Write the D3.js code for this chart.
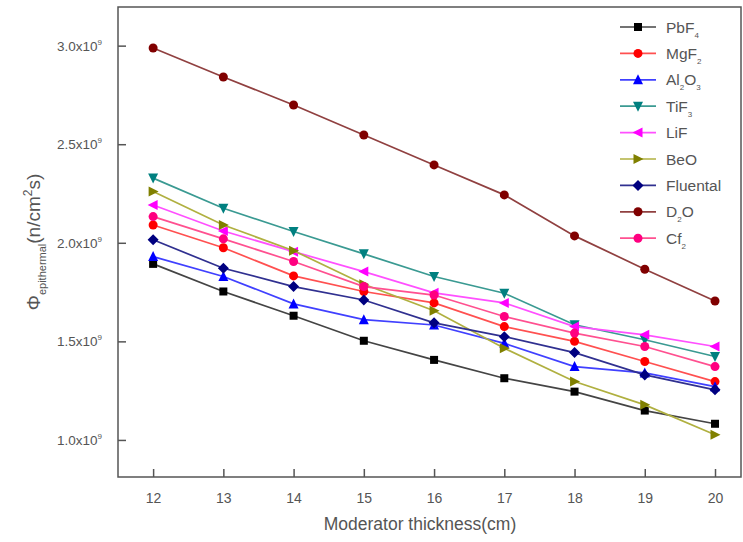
<!DOCTYPE html>
<html lang="en">
<head>
<meta charset="UTF-8">
<title>Epithermal flux vs moderator thickness</title>
<script src="https://d3js.org/d3.v7.min.js"></script>
<style>
    body, html { margin: 0; padding: 0; background: #fff; }
    svg { display: block; font-family: "Liberation Sans", Arial, sans-serif; }
</style>
</head>
<body>
<div id="chart"></div>
<script>
// thickness in cm
const thickness = [12, 13, 14, 15, 16, 17, 18, 19, 20];
// flux values in units of 1e9 n/cm2s
const pbf4     = [1.893, 1.753, 1.630, 1.503, 1.406, 1.313, 1.245, 1.149, 1.082];
const mgf2     = [2.090, 1.975, 1.832, 1.753, 1.695, 1.575, 1.500, 1.398, 1.296];
const al2o3    = [1.930, 1.829, 1.690, 1.610, 1.583, 1.490, 1.372, 1.340, 1.270];
const tif3     = [2.328, 2.175, 2.057, 1.944, 1.829, 1.744, 1.584, 1.508, 1.423];
const lif      = [2.192, 2.060, 1.955, 1.854, 1.746, 1.695, 1.575, 1.533, 1.474];
const beo      = [2.260, 2.090, 1.960, 1.790, 1.655, 1.465, 1.296, 1.178, 1.026];
const fluental = [2.015, 1.871, 1.778, 1.710, 1.594, 1.524, 1.443, 1.330, 1.254];
const d2o      = [2.988, 2.841, 2.699, 2.547, 2.395, 2.243, 2.035, 1.866, 1.705];
const cf2      = [2.133, 2.020, 1.905, 1.778, 1.735, 1.626, 1.542, 1.474, 1.372];
const yTicks = [1.0, 1.5, 2.0, 2.5, 3.0];

(function() {
    const series = [
        {name: "PbF", sub: "4", values: pbf4, color: "#000000", line: "#444444", shape: "square"},
        {name: "MgF", sub: "2", values: mgf2, color: "#ff0000", line: "#ff5050", shape: "circle"},
        {name: "Al", sub: "2", name2: "O", sub2: "3", values: al2o3, color: "#0000ff", line: "#4040ff", shape: "up"},
        {name: "TiF", sub: "3", values: tif3, color: "#008080", line: "#3a9a92", shape: "down"},
        {name: "LiF", values: lif, color: "#ff00ff", line: "#ff50ff", shape: "left"},
        {name: "BeO", values: beo, color: "#808000", line: "#b0b040", shape: "right"},
        {name: "Fluental", values: fluental, color: "#000080", line: "#303090", shape: "diamond"},
        {name: "D", sub: "2", name2: "O", values: d2o, color: "#800000", line: "#904040", shape: "circle"},
        {name: "Cf", sub: "2", values: cf2, color: "#ff0080", line: "#ff5090", shape: "circle"}
    ];

    const W = 743, H = 542;
    const mLeft = 118, mRight = 741, mTop = 7, mBottom = 477;

    const x = d3.scaleLinear().domain([11.5, 20.37]).range([mLeft, mRight]);
    const y = d3.scaleLinear().domain([0.812, 3.196]).range([mBottom, mTop]);

    const svg = d3.select("#chart").append("svg")
        .attr("width", W).attr("height", H);

    // frame
    svg.append("rect")
        .attr("x", mLeft).attr("y", mTop)
        .attr("width", mRight - mLeft).attr("height", mBottom - mTop)
        .attr("fill", "none").attr("stroke", "#555").attr("stroke-width", 1.5);

    // x axis (ticks inward)
    const xAxis = svg.append("g").attr("transform", `translate(0,${mBottom})`)
        .call(d3.axisBottom(x).tickValues(thickness).tickSizeInner(-8).tickSizeOuter(0).tickPadding(16));
    xAxis.select(".domain").remove();
    xAxis.selectAll("line").attr("stroke", "#555").attr("stroke-width", 1.5);
    xAxis.selectAll("text").attr("font-size", 14).attr("fill", "#555");

    // y axis
    const yAxis = svg.append("g").attr("transform", `translate(${mLeft},0)`)
        .call(d3.axisLeft(y).tickValues(yTicks).tickSizeInner(-8).tickSizeOuter(0).tickFormat(""));
    yAxis.select(".domain").remove();
    yAxis.selectAll("line").attr("stroke", "#555").attr("stroke-width", 1.5);

    const yLab = svg.append("g");
    yTicks.forEach(v => {
        const t = yLab.append("text")
            .attr("x", 102).attr("y", y(v) + 5)
            .attr("text-anchor", "end").attr("font-size", 13.5).attr("fill", "#555");
        t.append("tspan").text(d3.format(".1f")(v) + "x10");
        t.append("tspan").attr("dy", -6).attr("font-size", 8).text("9");
    });

    // axis titles
    svg.append("text")
        .attr("x", 420).attr("y", 530)
        .attr("text-anchor", "middle").attr("font-size", 17.5).attr("fill", "#555")
        .text("Moderator thickness(cm)");

    const yt = svg.append("text")
        .attr("transform", "translate(40,242) rotate(-90)")
        .attr("text-anchor", "middle").attr("font-size", 19).attr("fill", "#555");
    yt.append("tspan").text("\u03A6");
    yt.append("tspan").attr("dy", 6).attr("font-size", 11).text("epithermal");
    yt.append("tspan").attr("dy", -6).text("(n/cm");
    yt.append("tspan").attr("dy", -8).attr("font-size", 12).text("2");
    yt.append("tspan").attr("dy", 8).text("s)");

    // marker shapes
    function drawMarker(g, shape, cx, cy, color) {
        const s = 4.5;
        let p;
        if (shape === "circle") {
            p = g.append("circle").attr("cx", cx).attr("cy", cy).attr("r", s);
        } else if (shape === "square") {
            p = g.append("rect").attr("x", cx - 4).attr("y", cy - 4).attr("width", 8).attr("height", 8);
        } else {
            const pts = {
                up:      [[0, -s - 1], [s + 0.5, s], [-s - 0.5, s]],
                down:    [[0, s + 1], [s + 0.5, -s], [-s - 0.5, -s]],
                left:    [[-s - 1, 0], [s, -s - 0.5], [s, s + 0.5]],
                right:   [[s + 1, 0], [-s, -s - 0.5], [-s, s + 0.5]],
                diamond: [[0, -s - 1], [s + 1, 0], [0, s + 1], [-s - 1, 0]]
            }[shape];
            p = g.append("polygon").attr("points", pts.map(q => [cx + q[0], cy + q[1]].join(",")).join(" "));
        }
        p.attr("fill", color);
    }

    const line = d3.line().x((d, i) => x(thickness[i])).y(d => y(d));

    const plot = svg.append("g");
    series.forEach(s => {
        const g = plot.append("g");
        g.append("path").datum(s.values)
            .attr("d", line)
            .attr("fill", "none").attr("stroke", s.line).attr("stroke-width", 1.7);
        s.values.forEach((v, i) => drawMarker(g, s.shape, x(thickness[i]), y(v), s.color));
    });

    // legend
    const leg = svg.append("g");
    series.forEach((s, i) => {
        const ly = 27 + i * 26.4;
        leg.append("line")
            .attr("x1", 620).attr("x2", 656).attr("y1", ly).attr("y2", ly)
            .attr("stroke", s.line).attr("stroke-width", 1.7);
        drawMarker(leg, s.shape, 638, ly, s.color);
        const t = leg.append("text")
            .attr("x", 666).attr("y", ly + 5.5)
            .attr("font-size", 15.5).attr("fill", "#555");
        t.append("tspan").text(s.name);
        if (s.sub) t.append("tspan").attr("dy", 5).attr("font-size", 8).text(s.sub);
        if (s.name2) t.append("tspan").attr("dy", s.sub ? -5 : 0).text(s.name2);
        if (s.sub2) t.append("tspan").attr("dy", 5).attr("font-size", 8).text(s.sub2);
    });
})();
</script>
</body>
</html>
